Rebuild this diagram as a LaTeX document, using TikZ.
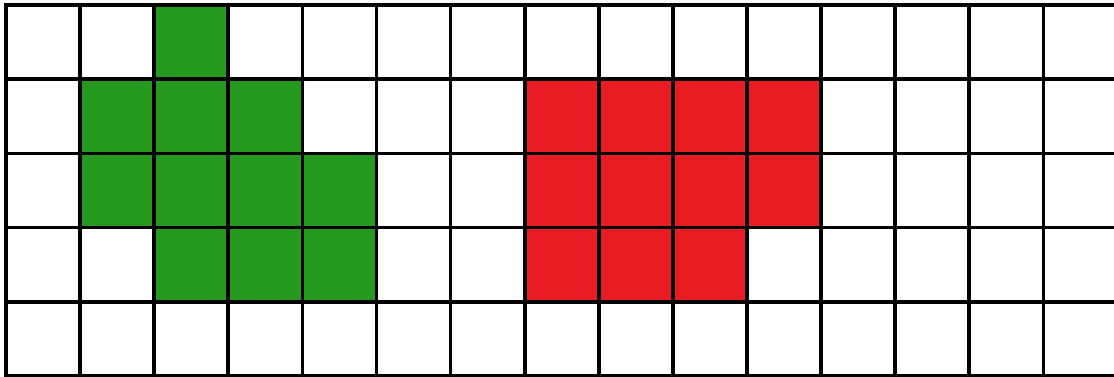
\documentclass[tikz,border=0pt]{standalone}
\definecolor{cellgreen}{RGB}{36,153,30}
\definecolor{cellred}{RGB}{232,28,34}
\tikzset{
  gridline/.style={line width=3.7pt, black},
  greencell/.style={fill=cellgreen},
  redcell/.style={fill=cellred}
}
\begin{document}
\begin{tikzpicture}[x=1pt,y=-1pt]
\useasboundingbox (0,0) rectangle (1114,377);
\fill[white] (0,0) rectangle (1114,377);
\def\cw{74.1}
\def\ch{74.2}
\def\xo{6}
\def\yo{5}
% green cells (col,row)
\foreach \c/\r in {2/0, 1/1,2/1,3/1, 1/2,2/2,3/2,4/2, 2/3,3/3,4/3}
  \fill[greencell] ({\xo+\c*\cw},{\yo+\r*\ch}) rectangle ++(\cw,\ch);
% red cells
\foreach \c/\r in {7/1,8/1,9/1,10/1, 7/2,8/2,9/2,10/2, 7/3,8/3,9/3}
  \fill[redcell] ({\xo+\c*\cw},{\yo+\r*\ch}) rectangle ++(\cw,\ch);
% grid
\foreach \c in {0,...,14}
  \draw[gridline] ({\xo+\c*\cw},{\yo-1.8}) -- ({\xo+\c*\cw},{\yo+5*\ch+1.8});
\foreach \r in {0,...,5}
  \draw[gridline] ({\xo-1.8},{\yo+\r*\ch}) -- (1114,{\yo+\r*\ch});
\end{tikzpicture}
\end{document}
